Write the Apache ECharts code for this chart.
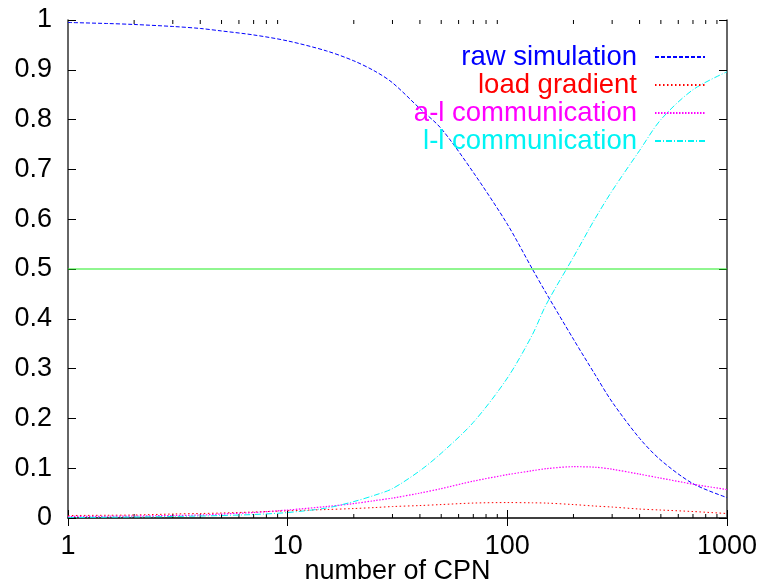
<!DOCTYPE html>
<html>
<head>
<meta charset="utf-8">
<script src="https://cdn.jsdelivr.net/npm/echarts@6/dist/echarts.min.js"></script>
<style>
html, body { margin: 0; padding: 0; background: #fff; }
#container { width: 758px; height: 588px; }
</style>
</head>
<body>
<div id="container"></div>
<script>
var dom = document.getElementById("container");
var myChart = echarts.init(dom);

// number of CPN (x) and the fractions
var cpn = [1, 1.5, 2, 3, 4, 5, 7, 10, 15, 20, 25, 30, 40, 50, 70, 100, 130, 150, 200, 250, 300, 400, 500, 700, 1000];
var rawSim = [0.995, 0.993, 0.991, 0.987, 0.983, 0.978, 0.970, 0.958, 0.938, 0.918, 0.897, 0.874, 0.822, 0.782, 0.694, 0.590, 0.500, 0.452, 0.359, 0.289, 0.233, 0.160, 0.116, 0.069, 0.041];
var loadGrad = [0.005, 0.0055, 0.006, 0.008, 0.009, 0.010, 0.012, 0.0145, 0.017, 0.019, 0.021, 0.023, 0.025, 0.027, 0.030, 0.031, 0.0305, 0.030, 0.027, 0.024, 0.022, 0.018, 0.016, 0.013, 0.009];
var alComm = [0.003, 0.0035, 0.004, 0.005, 0.006, 0.008, 0.011, 0.016, 0.023, 0.029, 0.035, 0.040, 0.050, 0.059, 0.074, 0.087, 0.095, 0.099, 0.103, 0.102, 0.098, 0.088, 0.080, 0.068, 0.057];
var llComm = [0.001, 0.0015, 0.002, 0.003, 0.004, 0.005, 0.007, 0.011, 0.020, 0.033, 0.046, 0.059, 0.095, 0.130, 0.192, 0.281, 0.368, 0.428, 0.524, 0.600, 0.657, 0.738, 0.800, 0.860, 0.896];
var halfLine = [[1, 0.5], [1000, 0.5]];
var minorTicks = [2, 3, 4, 5, 6, 7, 8, 9, 20, 30, 40, 50, 60, 70, 80, 90, 200, 300, 400, 500, 600, 700, 800, 900];

var font = 'Liberation Sans';
var borderColor = '#333';

function pairs(ys) {
    var res = [];
    for (var i = 0; i < cpn.length; i++) {
        res.push([cpn[i], ys[i]]);
    }
    return res;
}

function curve(name, ys, color, dash, width) {
    return {
        name: name,
        type: 'line',
        data: pairs(ys),
        symbol: 'none',
        smooth: 0.3,
        animation: false,
        lineStyle: { color: color, width: width || 1, type: dash },
        itemStyle: { color: color }
    };
}

function legendItem(name, color) {
    return {
        name: name,
        textStyle: { color: color },
        itemStyle: { color: color, opacity: 0 }
    };
}

var option = {
    backgroundColor: '#fff',
    textStyle: { fontFamily: font },
    grid: { left: 68, right: 31, top: 20, bottom: 70, outerBoundsMode: 'none', containLabel: false },
    legend: {
        orient: 'vertical',
        right: 47,
        top: 38,
        align: 'right',
        itemWidth: 50,
        itemHeight: 10,
        itemGap: 0,
        selectedMode: false,
        itemStyle: { opacity: 0 },
        data: [
            legendItem('raw simulation', '#0000ff'),
            legendItem('load gradient', '#ff0000'),
            legendItem('a-l communication', '#ff00ff'),
            legendItem('l-l communication', '#00f4f4')
        ],
        textStyle: { fontFamily: font, fontSize: 27.5, lineHeight: 27.5, padding: [0, 13, 0, 0] }
    },
    xAxis: [{
        type: 'log',
        logBase: 10,
        min: 1,
        max: 1000,
        name: 'number of CPN',
        nameLocation: 'middle',
        nameGap: 40,
        nameMoveOverlap: false,
        nameTextStyle: { fontFamily: font, fontSize: 27, color: '#000' },
        axisLine: { lineStyle: { color: borderColor, width: 1.5 } },
        axisTick: { inside: true, length: 8, lineStyle: { color: '#000' } },
        axisLabel: {
            fontFamily: font, fontSize: 27, color: '#000', margin: 15,
            formatter: function (v) { return String(Math.round(v)); }
        },
        splitLine: { show: false }
    }, {
        type: 'log',
        logBase: 10,
        min: 1,
        max: 1000,
        position: 'top',
        axisLine: { lineStyle: { color: borderColor, width: 1.5 } },
        axisTick: { inside: true, length: 8, lineStyle: { color: '#000' } },
        axisLabel: { show: false },
        splitLine: { show: false }
    }],
    yAxis: [{
        type: 'value',
        min: 0,
        max: 1,
        interval: 0.1,
        axisLine: { show: true, lineStyle: { color: borderColor, width: 1.5 } },
        axisTick: { show: true, inside: true, length: 8, lineStyle: { color: '#000' } },
        axisLabel: { fontFamily: font, fontSize: 27, color: '#000', margin: 16 },
        splitLine: { show: false }
    }, {
        type: 'value',
        min: 0,
        max: 1,
        interval: 0.1,
        position: 'right',
        axisLine: { show: true, lineStyle: { color: borderColor, width: 1.5 } },
        axisTick: { show: true, inside: true, length: 8, lineStyle: { color: '#000' } },
        axisLabel: { show: false },
        splitLine: { show: false }
    }],
    series: [
        curve('raw simulation', rawSim, '#0000ff', [4, 2]),
        curve('load gradient', loadGrad, '#ff0000', [1.5, 2.5]),
        curve('a-l communication', alComm, '#ff00ff', [1.5, 1.5], 1.2),
        curve('l-l communication', llComm, '#00f4f4', [6, 2, 1, 2]),
        {
            name: 'half',
            type: 'line',
            data: halfLine,
            symbol: 'none',
            animation: false,
            lineStyle: { color: '#22ee22', width: 1.2 }
        },
        {
            name: 'minor ticks',
            type: 'custom',
            animation: false,
            silent: true,
            data: minorTicks.map(function (v) { return [v, 0]; }),
            renderItem: function (params, api) {
                var x = api.value(0);
                var b = api.coord([x, 0]);
                var t = api.coord([x, 1]);
                var style = { stroke: '#000', lineWidth: 1 };
                return {
                    type: 'group',
                    children: [
                        { type: 'line', shape: { x1: b[0], y1: b[1], x2: b[0], y2: b[1] - 4 }, style: style },
                        { type: 'line', shape: { x1: t[0], y1: t[1], x2: t[0], y2: t[1] + 4 }, style: style }
                    ]
                };
            }
        }
    ]
};

myChart.setOption(option, true);
</script>
</body>
</html>
